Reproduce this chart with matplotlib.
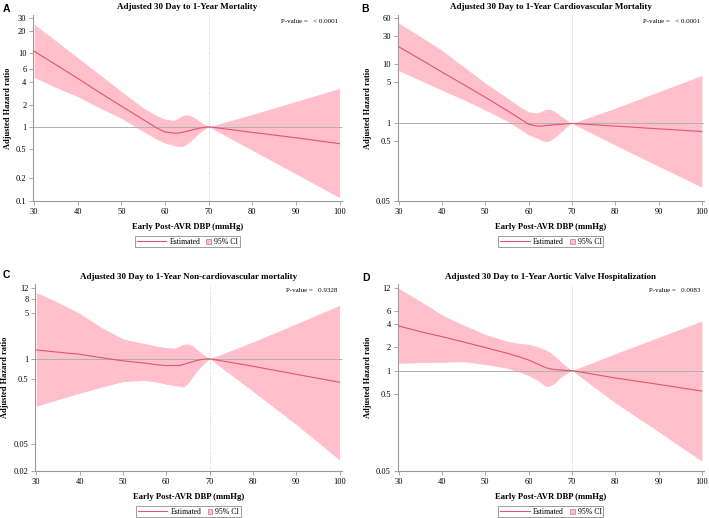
import numpy as np
import matplotlib
matplotlib.use('Agg')
import matplotlib.pyplot as plt
from matplotlib.lines import Line2D
from matplotlib.patches import Patch, Rectangle
from matplotlib.legend_handler import HandlerBase

plt.rcParams['font.family'] = ['Liberation Serif', 'DejaVu Serif']

# DBP grid the values were read at
dbp = [30, 35, 40, 45, 50, 55, 58, 60, 62, 63, 64, 65, 66, 67, 68, 69, 70, 80, 90, 100]

# A: 1-year mortality
a_est = [10.5, 6.9, 4.5, 2.9, 1.9, 1.25, 0.97, 0.85, 0.82, 0.82, 0.84, 0.87, 0.9, 0.93, 0.96, 0.98, 1.0, 0.84, 0.71, 0.59]
a_hi = [24.5, 14.5, 8.6, 5.1, 3.0, 1.8, 1.42, 1.27, 1.22, 1.3, 1.42, 1.45, 1.4, 1.3, 1.18, 1.08, 1.0, 1.47, 2.2, 3.3]
a_lo = [4.65, 3.4, 2.55, 1.8, 1.3, 0.86, 0.68, 0.6, 0.56, 0.54, 0.54, 0.58, 0.65, 0.74, 0.84, 0.92, 1.0, 0.48, 0.23, 0.11]

# B: cardiovascular mortality
b_est = [19.5, 12.0, 7.3, 4.5, 2.75, 1.65, 1.2, 0.97, 0.9, 0.9, 0.92, 0.93, 0.95, 0.96, 0.97, 0.99, 1.0, 0.9, 0.81, 0.73]
b_hi = [49.0, 29.0, 17.0, 9.0, 4.8, 2.7, 1.9, 1.57, 1.5, 1.6, 1.72, 1.72, 1.6, 1.4, 1.25, 1.1, 1.0, 1.8, 3.4, 6.4]
b_lo = [7.7, 5.3, 3.6, 2.5, 1.68, 1.1, 0.8, 0.64, 0.56, 0.52, 0.49, 0.52, 0.58, 0.66, 0.78, 0.9, 1.0, 0.43, 0.19, 0.084]

# C: non-cardiovascular mortality
c_est = [1.36, 1.26, 1.17, 1.04, 0.93, 0.86, 0.81, 0.79, 0.79, 0.79, 0.82, 0.86, 0.9, 0.94, 0.97, 0.99, 1.0, 0.77, 0.58, 0.44]
c_hi = [10.2, 7.2, 4.9, 3.0, 2.0, 1.7, 1.55, 1.48, 1.45, 1.55, 1.66, 1.68, 1.6, 1.4, 1.25, 1.1, 1.0, 1.8, 3.4, 6.5]
c_lo = [0.19, 0.24, 0.3, 0.37, 0.45, 0.47, 0.44, 0.41, 0.39, 0.38, 0.37, 0.42, 0.52, 0.64, 0.76, 0.88, 1.0, 0.32, 0.1, 0.029]

# D: aortic valve hospitalization
d_est = [3.8, 3.2, 2.76, 2.35, 1.99, 1.68, 1.5, 1.37, 1.22, 1.15, 1.09, 1.05, 1.03, 1.02, 1.01, 1.0, 1.0, 0.8, 0.66, 0.54]
d_hi = [11.7, 8.0, 5.3, 3.9, 2.96, 2.4, 2.25, 2.2, 2.05, 1.95, 1.85, 1.73, 1.55, 1.38, 1.22, 1.1, 1.0, 1.65, 2.7, 4.4]
d_lo = [1.24, 1.27, 1.28, 1.3, 1.2, 1.07, 0.95, 0.86, 0.75, 0.68, 0.62, 0.63, 0.68, 0.78, 0.86, 0.93, 1.0, 0.38, 0.16, 0.066]

panels = [
    ('A', 'Adjusted 30 Day to 1-Year Mortality', a_est, a_lo, a_hi,
     [0.1, 0.2, 0.5, 1, 2, 4, 6, 10, 20, 30], (0.099, 32.5), '< 0.0001'),
    ('B', 'Adjusted 30 Day to 1-Year Cardiovascular Mortality', b_est, b_lo, b_hi,
     [0.05, 0.5, 1, 5, 10, 30, 60], (0.0495, 66.5), '< 0.0001'),
    ('C', 'Adjusted 30 Day to 1-Year Non-cardiovascular mortality', c_est, c_lo, c_hi,
     [0.02, 0.05, 0.5, 1, 5, 8, 12], (0.0198, 13.5), '0.9328'),
    ('D', 'Adjusted 30 Day to 1-Year Aortic Valve Hospitalization', d_est, d_lo, d_hi,
     [0.05, 0.5, 1, 2, 4, 6, 12], (0.0495, 13.2), '0.0083'),
]

# axes boxes in figure fractions, and where each panel letter sits
boxes = [
    [0.047, 0.612, 0.435, 0.359],
    [0.561, 0.612, 0.432, 0.359],
    [0.050, 0.091, 0.432, 0.360],
    [0.561, 0.091, 0.432, 0.360],
]
letter_pos = [(0.004, 0.993), (0.510, 0.993), (0.004, 0.478), (0.511, 0.473)]

FILL = '#ffc0cb'
LINE = '#e0566a'
GRAY = '#9a9a9a'


class SmallSquare(HandlerBase):
    # legend entry for the CI band: a small square instead of a long box
    def legend_artist(self, legend, orig_handle, fontsize, handlebox):
        size = 0.62 * fontsize
        handlebox.width = size
        r = Rectangle((0, (handlebox.height - size) / 2), size, size,
                      facecolor=FILL, edgecolor='#c07888', linewidth=0.5,
                      transform=handlebox.get_transform())
        handlebox.add_artist(r)
        return r


fig = plt.figure(figsize=(7.09, 5.18), dpi=100)

for (letter, title, est, lo, hi, yticks, ylim, pval), box, lp in zip(panels, boxes, letter_pos):
    ax = fig.add_axes(box)
    ax.fill_between(dbp, lo, hi, color=FILL, linewidth=0, zorder=1)
    ax.plot(dbp, est, color=LINE, linewidth=0.8, zorder=3)
    ax.axhline(1, color='#b0b0b0', linewidth=0.7, zorder=2)
    ax.axvline(70, color='#bdbdbd', linewidth=0.6, linestyle=(0, (1, 2)), zorder=2)
    ax.set_yscale('log')
    ax.set_xlim(29.8, 100.5)
    ax.set_ylim(*ylim)
    ax.set_xticks(range(30, 101, 10))
    ax.set_yticks(yticks)
    ax.set_yticklabels([('%g' % t) for t in yticks])
    ax.yaxis.set_minor_locator(matplotlib.ticker.NullLocator())
    for s in ['top', 'right']:
        ax.spines[s].set_visible(False)
    for s in ['left', 'bottom']:
        ax.spines[s].set_color(GRAY)
        ax.spines[s].set_linewidth(0.8)
    ax.tick_params(axis='both', length=3, width=0.6, color=GRAY, labelsize=6, pad=2)
    ax.set_title(title, fontsize=6.5, fontweight='bold', pad=4)
    ax.set_xlabel('Early Post-AVR DBP (mmHg)', fontsize=6.2, fontweight='bold', labelpad=5)
    ax.set_ylabel('Adjusted Hazard ratio', fontsize=6.0, fontweight='bold', labelpad=3)
    ax.text(0.987, 0.965, 'P-value =   ' + pval, transform=ax.transAxes,
            ha='right', va='center', fontsize=5.0)
    handles = [Line2D([0], [0], color=LINE, linewidth=0.8), Patch()]
    leg = ax.legend(handles, ['Estimated', '95% CI'], loc='upper center',
                    bbox_to_anchor=(0.5, -0.19), ncol=2, fontsize=5.6, frameon=True,
                    fancybox=False, edgecolor='#707070', handlelength=3.8, handleheight=0.7,
                    columnspacing=0.8, handletextpad=0.4, borderpad=0.2, borderaxespad=0,
                    handler_map={Patch: SmallSquare()})
    leg.get_frame().set_linewidth(0.6)
    fig.text(lp[0], lp[1], letter, fontsize=7.5, fontweight='bold',
             family='Liberation Sans', ha='left', va='top')

fig.savefig('out.png', dpi=100)
